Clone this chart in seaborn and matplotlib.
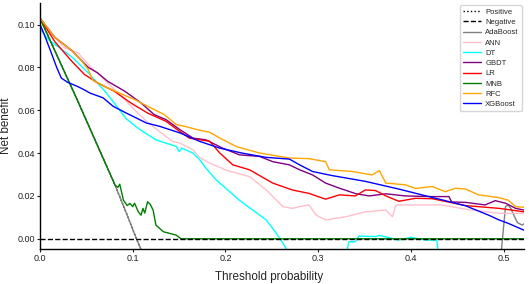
import numpy as np
import pandas as pd
import matplotlib
matplotlib.use("Agg")
import matplotlib.pyplot as plt
import seaborn as sns

# ---------------- data ----------------
pos_t = [0, 0.04, 0.081, 0.095, 0.104, 0.112]
pos_v = [0.103, 0.065, 0.025, 0.010, 0.0, -0.008]

neg_t = [0, 0.522]
neg_v = [0, 0]

ada_t = [0, 0.04, 0.081, 0.095, 0.104, 0.112, 0.497, 0.502, 0.505, 0.508, 0.511, 0.515, 0.520, 0.522]
ada_v = [0.103, 0.065, 0.025, 0.010, 0.0, -0.008, -0.008, 0.015, 0.0158, 0.014, 0.011, 0.0075, 0.0064, 0.007]

ann_t = [0, 0.016, 0.027, 0.041, 0.055, 0.070, 0.089, 0.100, 0.115, 0.129, 0.143, 0.151, 0.165, 0.172,
         0.183, 0.201, 0.226, 0.244, 0.262, 0.272, 0.280, 0.290, 0.298, 0.308, 0.330, 0.351, 0.373,
         0.380, 0.384, 0.410, 0.433, 0.459, 0.495, 0.522]
ann_v = [0.103, 0.094, 0.089, 0.0868, 0.080, 0.074, 0.066, 0.061, 0.0548, 0.050, 0.0454, 0.0447, 0.0415, 0.038,
         0.0353, 0.0320, 0.029, 0.0228, 0.015, 0.0142, 0.015, 0.0158, 0.011, 0.0088, 0.0103, 0.0126, 0.0134,
         0.0103, 0.0158, 0.0158, 0.0158, 0.0138, 0.0119, 0.0119]

dt_t = [0, 0.009, 0.034, 0.052, 0.070, 0.080, 0.093, 0.108, 0.125, 0.147, 0.150, 0.153, 0.165, 0.172,
        0.179, 0.190, 0.215, 0.244, 0.255, 0.262, 0.270, 0.330, 0.333, 0.340, 0.344, 0.362, 0.366,
        0.387, 0.400, 0.416, 0.428, 0.430]
dt_v = [0.098, 0.093, 0.085, 0.0775, 0.0689, 0.0634, 0.0560, 0.0509, 0.0462, 0.0431, 0.0407, 0.0423, 0.040, 0.037,
        0.033, 0.0275, 0.018, 0.0088, 0.0025, -0.002, -0.008, -0.008, -0.0014, -0.0014, 0.0013, 0.0010, 0.0016,
        -0.0006, 0.0007, -0.0006, -0.0006, -0.008]

gbdt_t = [0, 0.016, 0.034, 0.052, 0.062, 0.073, 0.091, 0.109, 0.123, 0.136, 0.151, 0.165, 0.179, 0.197,
          0.215, 0.237, 0.251, 0.269, 0.280, 0.294, 0.308, 0.323, 0.341, 0.355, 0.373, 0.394, 0.423, 0.441,
          0.444, 0.459, 0.480, 0.491, 0.502, 0.513, 0.522]
gbdt_v = [0.103, 0.094, 0.088, 0.080, 0.0775, 0.0735, 0.069, 0.0634, 0.058, 0.0556, 0.0509, 0.047, 0.0462, 0.0423,
          0.0392, 0.0384, 0.036, 0.0345, 0.0322, 0.0298, 0.026, 0.0236, 0.0210, 0.0200, 0.0210, 0.0200, 0.0197, 0.0197,
          0.0172, 0.0170, 0.0158, 0.0178, 0.0166, 0.0142, 0.0134]

lr_t = [0, 0.016, 0.034, 0.048, 0.062, 0.080, 0.098, 0.116, 0.136, 0.151, 0.161, 0.183, 0.194, 0.208,
        0.226, 0.251, 0.272, 0.290, 0.308, 0.323, 0.340, 0.351, 0.362, 0.373, 0.387, 0.405, 0.423, 0.459,
        0.495, 0.522]
lr_v = [0.103, 0.092, 0.083, 0.0767, 0.0728, 0.0689, 0.0634, 0.0587, 0.0548, 0.050, 0.047, 0.0455, 0.040, 0.0345,
        0.0322, 0.026, 0.0228, 0.0212, 0.0185, 0.0205, 0.0200, 0.0228, 0.0225, 0.0200, 0.0175, 0.0189, 0.0187, 0.0155,
        0.0142, 0.0126]

mnb_t = [0, 0.04, 0.081, 0.084, 0.086, 0.090, 0.094, 0.097, 0.100, 0.102, 0.106, 0.109, 0.111, 0.113,
         0.116, 0.119, 0.122, 0.125, 0.133, 0.147, 0.152, 0.522]
mnb_v = [0.103, 0.065, 0.025, 0.024, 0.0255, 0.018, 0.0155, 0.0165, 0.015, 0.0166, 0.0126, 0.011, 0.0142, 0.012,
         0.0173, 0.016, 0.0134, 0.0064, 0.0033, 0.0017, 0.0, 0.0]

rfc_t = [0, 0.016, 0.034, 0.045, 0.052, 0.057, 0.070, 0.091, 0.102, 0.120, 0.134, 0.147, 0.156, 0.169,
         0.183, 0.194, 0.212, 0.237, 0.269, 0.290, 0.308, 0.312, 0.337, 0.358, 0.366, 0.373, 0.394, 0.405,
         0.423, 0.437, 0.448, 0.459, 0.473, 0.495, 0.505, 0.513, 0.522]
rfc_v = [0.103, 0.094, 0.088, 0.083, 0.079, 0.074, 0.071, 0.067, 0.065, 0.061, 0.058, 0.0533, 0.0525, 0.051,
         0.0497, 0.047, 0.043, 0.040, 0.0377, 0.0374, 0.036, 0.0322, 0.0314, 0.0298, 0.0318, 0.026, 0.0252, 0.0235,
         0.0244, 0.022, 0.0236, 0.0232, 0.0205, 0.0192, 0.018, 0.015, 0.0147]

xgb_t = [0, 0.004, 0.012, 0.018, 0.023, 0.030, 0.040, 0.047, 0.054, 0.068, 0.079, 0.093, 0.115, 0.129,
         0.151, 0.172, 0.194, 0.218, 0.244, 0.269, 0.280, 0.294, 0.315, 0.351, 0.387, 0.423, 0.459, 0.484,
         0.495, 0.505, 0.522]
xgb_v = [0.100, 0.096, 0.087, 0.080, 0.075, 0.073, 0.0712, 0.0697, 0.068, 0.0658, 0.0618, 0.0587, 0.054, 0.0525,
         0.0494, 0.0455, 0.0423, 0.040, 0.038, 0.0372, 0.0345, 0.0314, 0.0295, 0.0268, 0.0232, 0.0193, 0.0154, 0.011,
         0.0088, 0.0072, 0.004]

models = ["AdaBoost", "ANN", "DT", "GBDT", "LR", "MNB", "RFC", "XGBoost"]
model_t = [ada_t, ann_t, dt_t, gbdt_t, lr_t, mnb_t, rfc_t, xgb_t]
model_v = [ada_v, ann_v, dt_v, gbdt_v, lr_v, mnb_v, rfc_v, xgb_v]
colors = ["gray", "pink", "cyan", "purple", "red", "green", "orange", "blue"]

x_ticks = [0.0, 0.1, 0.2, 0.3, 0.4, 0.5]
y_ticks = [0.00, 0.02, 0.04, 0.06, 0.08, 0.10]

# ---------------- plot ----------------
sns.set_style("white")
plt.rcParams['font.family'] = ['Liberation Sans', 'DejaVu Sans']

fig = plt.figure(figsize=(5.29, 2.84), dpi=100)
ax = fig.add_axes([0.0756, 0.123, 0.915, 0.866])

sns.lineplot(x=pos_t, y=pos_v, color="black", linestyle=":", lw=1, ax=ax,
             sort=False, estimator=None, label="Positive")
sns.lineplot(x=neg_t, y=neg_v, color="black", linestyle="--", lw=1, ax=ax,
             sort=False, estimator=None, label="Negative")
for name, t, v, c in zip(models, model_t, model_v, colors):
    sns.lineplot(x=t, y=v, color=c, lw=1, ax=ax, sort=False, estimator=None, label=name)
for ln in ax.get_lines():
    if ln.get_label() == "Negative":
        ln.set_zorder(2.5)

hs, ls = ax.get_legend_handles_labels()
order = ["Positive", "Negative"] + models
hmap = dict(zip(ls, hs))
ax.legend([hmap[k] for k in order], order, loc="upper right", fontsize=5.5,
          handlelength=2.3, labelspacing=0.38, borderaxespad=0.3, frameon=True,
          borderpad=0.4, handletextpad=0.6)

ax.set_xlim(0, 0.522)
ax.set_ylim(-0.0048, 0.110)
ax.set_xticks(x_ticks)
ax.set_xticklabels([f"{x:.1f}" for x in x_ticks])
ax.set_yticks(y_ticks)
ax.set_yticklabels([f"{y:.2f}" for y in y_ticks])
ax.tick_params(axis="both", labelsize=6.5, pad=1.5, colors="#222222",
               left=True, bottom=True, length=2, width=0.8)
ax.set_xlabel("Threshold probability", fontsize=8.4)
ax.set_ylabel("Net benefit", fontsize=8.4)
ax.xaxis.set_label_coords(0.473, -0.09)
ax.yaxis.set_label_coords(-0.058, 0.5)
sns.despine(ax=ax)
for s in ["left", "bottom"]:
    ax.spines[s].set_color("black")
    ax.spines[s].set_linewidth(1.0)

fig.savefig("out.png", dpi=100)
